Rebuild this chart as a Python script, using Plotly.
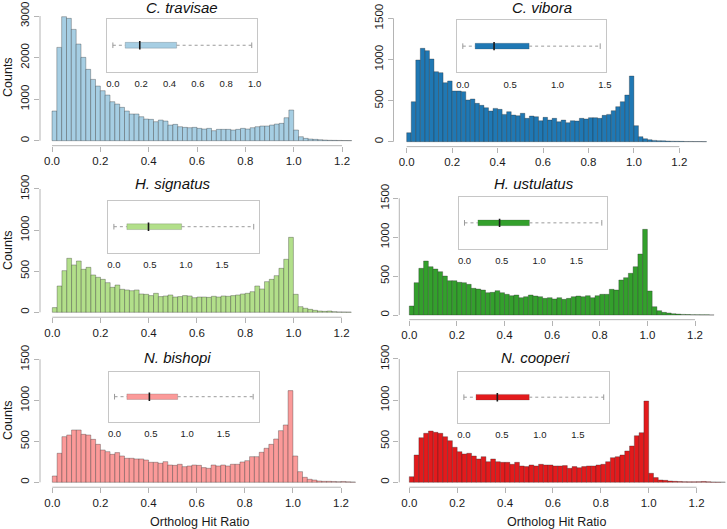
import numpy as np
import plotly.graph_objects as go

# ---------------- data ----------------
BIN_WIDTH = 0.02
species = ["C. travisae", "C. vibora", "H. signatus", "H. ustulatus", "N. bishopi", "N. cooperi"]
colors = ["#A6CEE3", "#1F78B4", "#B2DF8A", "#33A02C", "#FB9A99", "#E31A1C"]

counts_travisae = [714, 2245, 2983, 2943, 2678, 2325, 2005, 1716, 1475, 1315,
                   1203, 1098, 938, 882, 802, 714, 642, 642, 577, 521,
                   513, 457, 497, 473, 377, 393, 337, 321, 313, 321,
                   297, 281, 297, 241, 273, 273, 273, 257, 273, 297,
                   281, 313, 337, 353, 353, 377, 401, 417, 553, 738,
                   257, 96, 56, 40, 32, 24, 16, 10, 8, 6, 4, 3]
counts_vibora = [109, 486, 993, 1135, 1107, 1005, 851, 839, 717, 738,
                 616, 616, 608, 507, 519, 466, 442, 413, 373, 405,
                 393, 332, 365, 324, 316, 345, 284, 312, 304, 255,
                 296, 263, 284, 243, 263, 231, 255, 251, 284, 276,
                 292, 292, 284, 320, 332, 377, 426, 486, 567, 798,
                 195, 61, 36, 24, 16, 12, 10, 8, 6, 5, 4, 3, 3, 2, 2, 1]
counts_signatus = [57, 320, 507, 657, 576, 624, 523, 547, 454, 426,
                   401, 361, 304, 332, 280, 272, 263, 272, 223, 219,
                   203, 231, 191, 199, 211, 186, 191, 203, 199, 178,
                   186, 186, 182, 195, 186, 199, 195, 203, 211, 223,
                   231, 251, 320, 284, 373, 401, 446, 535, 645, 912,
                   219, 69, 49, 36, 24, 16, 12, 16, 8, 5, 4, 3]
counts_ustulatus = [116, 416, 600, 694, 621, 591, 557, 501, 441, 441,
                    420, 416, 394, 343, 334, 321, 287, 291, 313, 287,
                    266, 249, 257, 223, 236, 257, 244, 236, 214, 223,
                    206, 223, 201, 214, 236, 244, 236, 249, 223, 249,
                    266, 266, 330, 321, 450, 480, 536, 621, 784, 1101,
                    309, 107, 56, 34, 26, 17, 12, 8, 6, 4, 3, 2, 2, 1]
counts_bishopi = [77, 354, 557, 577, 638, 638, 585, 577, 524, 463,
                  394, 374, 341, 362, 321, 293, 293, 285, 285, 272,
                  244, 244, 232, 252, 211, 207, 220, 191, 199, 211,
                  207, 179, 171, 211, 199, 211, 199, 220, 220, 248,
                  264, 313, 313, 366, 415, 463, 528, 630, 699, 1118,
                  321, 130, 61, 37, 28, 16, 12, 12, 10, 8, 10, 6, 4]
counts_cooperi = [69, 332, 543, 596, 624, 608, 596, 555, 507, 426,
                  373, 345, 353, 320, 284, 312, 251, 284, 251, 243,
                  243, 219, 243, 199, 191, 211, 199, 219, 211, 211,
                  199, 199, 203, 170, 191, 178, 191, 199, 199, 211,
                  219, 251, 300, 312, 332, 381, 442, 567, 604, 989,
                  110, 57, 28, 24, 16, 12, 10, 8, 6, 6, 8, 10, 6, 4, 3, 2]
all_counts = [counts_travisae, counts_vibora, counts_signatus,
              counts_ustulatus, counts_bishopi, counts_cooperi]

y_tick_max = [3000, 1500, 1500, 1500, 1500, 1500]
y_tick_step = [1000, 500, 500, 500, 500, 500]
x_ticks = [0.0, 0.2, 0.4, 0.6, 0.8, 1.0, 1.2]
x_tick_labels = ["0.0", "0.2", "0.4", "0.6", "0.8", "1.0", "1.2"]

# inset boxplot summaries
box_min = [0.0, 0.0, 0.0, 0.0, 0.0, 0.0]
box_q1 = [0.087, 0.13, 0.18, 0.18, 0.17, 0.16]
box_median = [0.19, 0.33, 0.48, 0.47, 0.48, 0.44]
box_q3 = [0.45, 0.70, 0.94, 0.87, 0.87, 0.86]
box_max = [0.98, 1.45, 1.94, 1.84, 1.91, 1.84]
inset_ticks = [[0.0, 0.2, 0.4, 0.6, 0.8, 1.0]] + [[0.0, 0.5, 1.0, 1.5]] * 5
inset_tick_labels = [["0.0", "0.2", "0.4", "0.6", "0.8", "1.0"]] + [["0.0", "0.5", "1.0", "1.5"]] * 5

x_title = "Ortholog Hit Ratio"
y_title = "Counts"

# ---------------- layout geometry (pixels) ----------------
W, H = 727, 529
# left px, px of x=0, px per unit, right px, px of y=0, px of top tick
main_geom = [
    (40.0, 52.0, 241.7, 366.0, 140.7, 16.0),
    (393.5, 406.7, 227.2, 727.0, 141.7, 18.3),
    (40.0, 52.3, 241.1, 366.0, 312.3, 189.0),
    (399.3, 409.3, 238.1, 727.0, 315.0, 198.3),
    (40.0, 52.3, 240.6, 366.0, 482.3, 359.3),
    (399.3, 409.3, 239.4, 727.0, 482.3, 359.0),
]
title_pos = [(182, 7), (542, 7), (173, 183.5), (534, 183.5), (177, 357.5), (535, 357.5)]
counts_pos = [(8, 77), None, (8, 250), None, (8, 420), None]
xtitle_pos = [None, None, None, None, (199, 521.5), (556, 521.5)]
inset_frames = [
    (107.3, 19.0, 257.3, 71.5),
    (457.3, 20.0, 605.7, 72.3),
    (108.3, 200.7, 259.3, 252.7),
    (459.0, 196.7, 607.3, 249.0),
    (109.0, 371.7, 258.7, 421.7),
    (458.3, 371.7, 609.3, 422.7),
]

FONT = "Liberation Sans, Arial, Helvetica, sans-serif"
AXIS_GRAY = "#b4b4b4"


def sfx(n):
    return "" if n == 1 else str(n)


fig = go.Figure()
layout = dict(
    width=W, height=H, margin=dict(l=0, r=0, t=0, b=0, pad=0, autoexpand=False),
    paper_bgcolor="white", plot_bgcolor="white", showlegend=False,
    font=dict(family=FONT, color="#1a1a1a"),
    shapes=[], annotations=[],
)

for i in range(6):
    n = i + 1
    s = sfx(n)
    L, X0, K, R, Y0, YT = main_geom[i]
    counts = np.array(all_counts[i], dtype=float)
    centers = (np.arange(len(counts)) + 0.5) * BIN_WIDTH
    fig.add_trace(go.Bar(
        x=centers, y=counts, width=BIN_WIDTH,
        marker=dict(color=colors[i], line=dict(color="rgba(40,40,40,0.55)", width=0.6)),
        xaxis=f"x{s}", yaxis=f"y{s}", hoverinfo="x+y",
    ))
    ymax = y_tick_max[i]
    pxu = (Y0 - YT) / ymax
    top = YT - 0.04 * ymax * pxu
    bot = Y0 + 0.04 * ymax * pxu
    yticks = list(range(0, ymax + 1, y_tick_step[i]))
    layout[f"xaxis{s}"] = dict(
        domain=[L / W, R / W], range=[(L - X0) / K, (R - X0) / K], anchor=f"y{s}",
        showgrid=False, zeroline=False, showline=False, automargin=False,
        ticks="outside", ticklen=5, tickwidth=1, tickcolor=AXIS_GRAY,
        tickvals=x_ticks, ticktext=x_tick_labels,
        tickfont=dict(size=11.5, family=FONT, color="#1a1a1a"),
    )
    layout[f"yaxis{s}"] = dict(
        domain=[1 - bot / H, 1 - top / H], range=[-0.04 * ymax, 1.04 * ymax], anchor=f"x{s}",
        showgrid=False, zeroline=False, showline=False, automargin=False,
        ticks="outside", ticklen=5, tickwidth=1, tickcolor=AXIS_GRAY,
        tickvals=yticks, ticktext=[str(v) for v in yticks], tickangle=-90,
        tickfont=dict(size=11.5, family=FONT, color="#1a1a1a"),
    )
    # R-style axis lines spanning first to last tick
    layout["shapes"].append(dict(type="line", xref=f"x{s}", yref=f"y{s} domain",
                                 x0=x_ticks[0], x1=x_ticks[-1], y0=0, y1=0,
                                 line=dict(color=AXIS_GRAY, width=1), layer="below"))
    layout["shapes"].append(dict(type="line", xref=f"x{s} domain", yref=f"y{s}",
                                 x0=0, x1=0, y0=yticks[0], y1=yticks[-1],
                                 line=dict(color=AXIS_GRAY, width=1), layer="below"))
    # panel title
    tx, ty = title_pos[i]
    layout["annotations"].append(dict(text=f"<i>{species[i]}</i>", xref="paper", yref="paper",
                                      x=tx / W, y=1 - ty / H, xanchor="center", yanchor="middle",
                                      showarrow=False, font=dict(size=15, family=FONT, color="#111")))
    if counts_pos[i]:
        cx, cy = counts_pos[i]
        layout["annotations"].append(dict(text=y_title, xref="paper", yref="paper",
                                          x=cx / W, y=1 - cy / H, xanchor="center", yanchor="middle",
                                          textangle=-90, showarrow=False,
                                          font=dict(size=12.5, family=FONT, color="#1a1a1a")))
    if xtitle_pos[i]:
        cx, cy = xtitle_pos[i]
        layout["annotations"].append(dict(text=x_title, xref="paper", yref="paper",
                                          x=cx / W, y=1 - cy / H, xanchor="center", yanchor="middle",
                                          showarrow=False, font=dict(size=12.5, family=FONT, color="#1a1a1a")))

    # ---------- inset boxplot ----------
    m = i + 7
    fL, fT, fR, fB = inset_frames[i]
    lo, hi = box_min[i], box_max[i]
    pad = 0.04 * (hi - lo)
    fig.add_trace(go.Scatter(
        x=[box_min[i], box_q1[i], None, box_q3[i], box_max[i]], y=[0, 0, None, 0, 0],
        mode="lines", line=dict(color="#9a9a9a", width=1, dash="dot"),
        xaxis=f"x{m}", yaxis=f"y{m}", hoverinfo="skip"))
    fig.add_trace(go.Scatter(
        x=[box_min[i], box_max[i]], y=[0, 0], mode="markers",
        marker=dict(symbol="line-ns", size=4, line=dict(color="#9a9a9a", width=1)),
        xaxis=f"x{m}", yaxis=f"y{m}", hoverinfo="skip"))
    fig.add_trace(go.Bar(
        x=[box_q3[i] - box_q1[i]], base=[box_q1[i]], y=[0], orientation="h", width=0.22,
        marker=dict(color=colors[i], line=dict(color="rgba(60,60,60,0.35)", width=0.6)),
        xaxis=f"x{m}", yaxis=f"y{m}", hoverinfo="skip"))
    fig.add_trace(go.Scatter(
        x=[box_median[i]], y=[0], mode="markers",
        marker=dict(symbol="line-ns", size=6, line=dict(color="#1a1a1a", width=1.6)),
        xaxis=f"x{m}", yaxis=f"y{m}", hoverinfo="skip"))
    layout[f"xaxis{m}"] = dict(
        domain=[fL / W, fR / W], range=[lo - pad, hi + pad], anchor=f"y{m}",
        showgrid=False, zeroline=False, showline=True, mirror=True, automargin=False,
        linecolor="#c6c6c6", linewidth=1,
        ticks="outside", ticklen=3, tickcolor="rgba(0,0,0,0)",
        tickvals=inset_ticks[i], ticktext=inset_tick_labels[i],
        tickfont=dict(size=9.5, family=FONT, color="#222"),
    )
    layout[f"yaxis{m}"] = dict(
        domain=[1 - fB / H, 1 - fT / H], range=[-1, 1], anchor=f"x{m}",
        showgrid=False, zeroline=False, showline=True, mirror=True, automargin=False,
        linecolor="#c6c6c6", linewidth=1, showticklabels=False, ticks="",
    )

fig.update_layout(**layout)
fig.write_html("out.html", config={"displayModeBar": False},
               post_script="document.body.style.margin='0px';document.body.style.overflow='hidden';")
